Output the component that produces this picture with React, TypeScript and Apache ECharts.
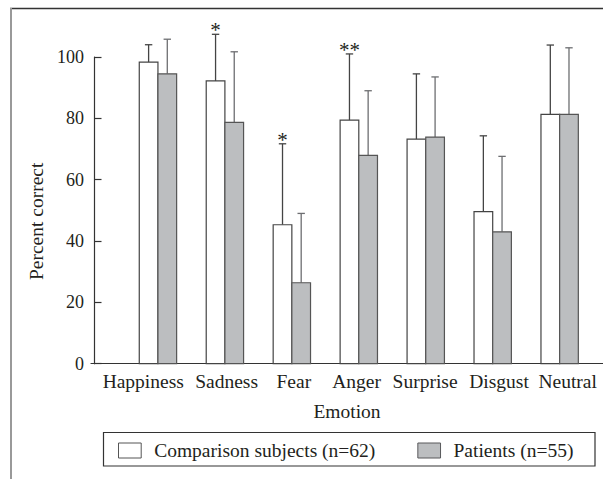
import React, { useEffect, useRef } from "react";
import * as echarts from "echarts";

const categories = ["Happiness", "Sadness", "Fear", "Anger", "Surprise", "Disgust", "Neutral"];
const comparisonMean = [98.3, 92.2, 45.3, 79.4, 73.2, 49.6, 81.3];
const comparisonSD = [5.7, 15.2, 26.4, 21.6, 21.3, 24.7, 22.6];
const patientMean = [94.5, 78.7, 26.4, 67.9, 73.9, 43.0, 81.3];
const patientSD = [11.3, 23.0, 22.6, 21.1, 19.6, 24.6, 21.7];
const significance = ["", "*", "*", "**", "", "", ""];
const yTicks = [0, 20, 40, 60, 80, 100];

const SERIES_A = "Comparison subjects (n=62)";
const SERIES_B = "Patients (n=55)";

// label nudges (px) to mimic the original hand-spaced category labels
const LABEL_NUDGE = [-14.7, 1.7, 2, -2.3, -0.7, 6.3, 8];

const FONT = "'Liberation Serif', 'Times New Roman', serif";
const TEXT = "#231f20";
const BAR_W = 0.279;

function makeRender(side: number, fill: string, stroke: string, errColor: string, stars: string[] | null) {
  return (params: any, api: any) => {
    const i = params.dataIndex;
    const cx = api.value(0);
    const m = api.value(1);
    const sd = api.value(2);
    const base = api.coord([cx, 0]);
    const topY = api.coord([cx, m])[1];
    const errY = api.coord([cx, m + sd])[1];
    const w = api.size([BAR_W, 0])[0];
    const left = side < 0 ? base[0] - w : base[0];
    const mid = left + w / 2;
    const children: any[] = [
      {
        type: "line",
        shape: { x1: mid, y1: topY, x2: mid, y2: errY },
        style: { stroke: errColor, lineWidth: 1.3 },
      },
      {
        type: "line",
        shape: { x1: mid - 3.7, y1: errY, x2: mid + 3.7, y2: errY },
        style: { stroke: errColor, lineWidth: 1.3 },
      },
      {
        type: "rect",
        shape: { x: left, y: topY, width: w, height: base[1] - topY },
        style: { fill, stroke, lineWidth: 1.2 },
      },
    ];
    if (stars && stars[i]) {
      children.push({
        type: "text",
        x: mid,
        y: errY - 4,
        style: {
          text: stars[i],
          fontSize: 21,
          fontFamily: FONT,
          fill: TEXT,
          align: "center",
          verticalAlign: "middle",
        },
      });
    }
    return { type: "group", children };
  };
}

export default function App() {
  const ref = useRef<HTMLDivElement>(null);
  useEffect(() => {
    if (!ref.current) return;
    const chart = echarts.init(ref.current, null, { renderer: "svg" });
    const rich: any = {};
    LABEL_NUDGE.forEach((n, i) => {
      rich["n" + i] = {
        fontSize: 19.5,
        fontFamily: FONT,
        color: TEXT,
        padding: n < 0 ? [0, -2 * n, 0, 0] : [0, 0, 0, 2 * n],
      };
    });
    const xMax = 512 / 66.95;
    chart.setOption({
      animation: false,
      backgroundColor: "#ffffff",
      grid: { left: 91, right: 0, top: 57, bottom: 115.3, containLabel: false },
      xAxis: {
        type: "value",
        min: 0,
        max: xMax,
        interval: 1,
        splitLine: { show: false },
        axisTick: { show: false },
        axisLine: { show: true, lineStyle: { color: "#333", width: 1.2 } },
        axisLabel: {
          margin: 8,
          showMinLabel: false,
          showMaxLabel: false,
          formatter: (v: number) => {
            const i = Math.round(v) - 1;
            if (Math.abs(v - Math.round(v)) > 1e-6 || i < 0 || i >= categories.length) return "";
            return `{n${i}|${categories[i]}}`;
          },
          rich,
          fontSize: 19.5,
          fontFamily: FONT,
          color: TEXT,
        },
        name: "Emotion",
        nameLocation: "middle",
        nameGap: 38,
        nameTextStyle: { fontSize: 19.5, fontFamily: FONT, color: TEXT },
      },
      yAxis: {
        type: "value",
        min: yTicks[0],
        max: yTicks[yTicks.length - 1],
        interval: yTicks[1] - yTicks[0],
        offset: -3,
        splitLine: { show: false },
        axisLine: { show: true, lineStyle: { color: "#333", width: 1.2 } },
        axisTick: { show: true, inside: true, length: 7.5, lineStyle: { color: "#333", width: 1.2 } },
        axisLabel: { margin: 10, fontSize: 18, fontFamily: FONT, color: TEXT },
        name: "Percent correct",
        nameLocation: "middle",
        nameGap: 47,
        nameTextStyle: { fontSize: 19.5, fontFamily: FONT, color: TEXT, padding: [0, 22, 0, 0] },
      },
      legend: {
        left: 118,
        top: 440.5,
        padding: 0,
        itemGap: 42,
        itemWidth: 22.7,
        itemHeight: 15,
        selectedMode: false,
        textStyle: { fontSize: 19.5, fontFamily: FONT, color: TEXT, padding: [0, 0, 0, 8] },
        data: [
          { name: SERIES_A, icon: "rect", itemStyle: { color: "#ffffff", borderColor: "#555", borderWidth: 1 } },
          { name: SERIES_B, icon: "rect", itemStyle: { color: "#bcbec0", borderColor: "#58595b", borderWidth: 1 } },
        ],
      },
      graphic: [
        {
          type: "rect",
          shape: { x: 103.5, y: 432.5, width: 491.5, height: 33.5 },
          style: { fill: "none", stroke: "#333", lineWidth: 1.2 },
          silent: true,
        },
        {
          type: "line",
          shape: { x1: 10, y1: 8.5, x2: 603, y2: 8.5 },
          style: { stroke: "#333", lineWidth: 1.5 },
          silent: true,
        },
        {
          type: "line",
          shape: { x1: 11, y1: 8, x2: 11, y2: 479 },
          style: { stroke: "#999", lineWidth: 2 },
          silent: true,
        },
      ],
      series: [
        {
          name: SERIES_A,
          type: "custom",
          itemStyle: { color: "#ffffff", borderColor: "#555" },
          encode: { x: 0, y: 1 },
          clip: false,
          data: categories.map((_, i) => [i + 1, comparisonMean[i], comparisonSD[i]]),
          renderItem: makeRender(-1, "#ffffff", "#444", "#444", significance),
        },
        {
          name: SERIES_B,
          type: "custom",
          itemStyle: { color: "#bcbec0", borderColor: "#58595b" },
          encode: { x: 0, y: 1 },
          clip: false,
          data: categories.map((_, i) => [i + 1, patientMean[i], patientSD[i]]),
          renderItem: makeRender(1, "#bcbec0", "#555", "#6d6e71", null),
        },
      ],
    });
    return () => chart.dispose();
  }, []);
  return (
    <div
      ref={ref}
      style={{ position: "absolute", left: 0, top: 0, width: 603, height: 479, background: "#fff" }}
    />
  );
}
